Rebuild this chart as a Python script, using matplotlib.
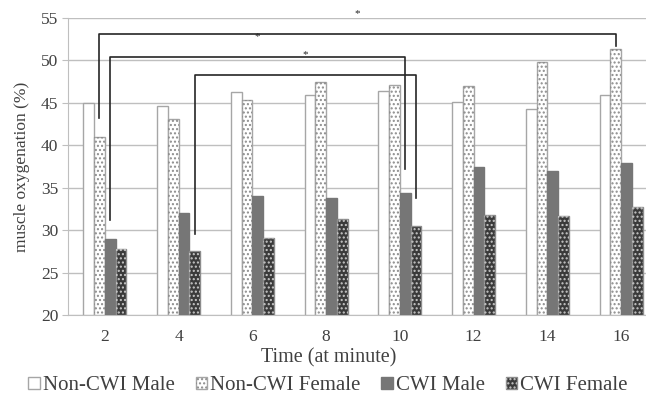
import matplotlib
matplotlib.use("Agg")
import matplotlib.pyplot as plt
from matplotlib.legend_handler import HandlerTuple
import numpy as np

plt.rcParams['font.family'] = ['Liberation Serif', 'DejaVu Serif']
plt.rcParams['hatch.linewidth'] = 1.0

# data
minutes = ['2', '4', '6', '8', '10', '12', '14', '16']
noncwi_male = [45.0, 44.6, 46.3, 45.9, 46.4, 45.1, 44.3, 45.9]
noncwi_female = [41.0, 43.1, 45.3, 47.5, 47.1, 47.0, 49.8, 51.4]
cwi_male = [28.9, 32.0, 34.0, 33.8, 34.4, 37.4, 37.0, 37.9]
cwi_female = [27.8, 27.5, 29.1, 31.3, 30.5, 31.8, 31.7, 32.7]
series_names = ['Non-CWI Male', 'Non-CWI Female', 'CWI Male', 'CWI Female']

# significance brackets: (series, from idx, to idx, left end, right end, bar height)
brackets = [
    (1, 0, 7, 43.2, 51.7, 53.1),
    (2, 0, 4, 31.2, 37.2, 50.4),
    (3, 1, 4, 29.6, 33.8, 48.25),
]

fig = plt.figure(figsize=(6.46, 4.05), dpi=100)
ax = fig.add_axes([68 / 646, 1 - 315 / 405, 590 / 646, 297 / 405])

x = np.arange(len(minutes))
w = 0.146
offsets = (np.arange(4) - 1.5) * w
grid_c = '#bfbfbf'
txt_c = '#404040'

styles = [
    dict(face='white', edge='#a6a6a6', hatch=None, hcol=None),
    dict(face='white', edge='#a6a6a6', hatch='....', hcol='#8c8c8c'),
    dict(face='#767676', edge='#767676', hatch=None, hcol=None),
    dict(face='#3a3a3a', edge='#8c8c8c', hatch='....', hcol='#c8c8c8'),
]
values = [noncwi_male, noncwi_female, cwi_male, cwi_female]

handles = []
for i, (vals, st) in enumerate(zip(values, styles)):
    h = ax.bar(x + offsets[i], np.array(vals) - 20, w, bottom=20,
               color=st['face'], edgecolor=st['edge'], linewidth=1.0, zorder=3)
    if st['hatch']:
        h2 = ax.bar(x + offsets[i], np.array(vals) - 20, w, bottom=20, fill=False,
                    edgecolor=st['hcol'], linewidth=0, hatch=st['hatch'], zorder=3)
        handles.append((h, h2))
    else:
        handles.append((h,))

for s, a, b, y0, y1, yt in brackets:
    xa = x[a] + offsets[s]
    xb = x[b] + offsets[s]
    ax.plot([xa, xa, xb, xb], [y0, yt, yt, y1], color='#262626', lw=1.2,
            zorder=4, clip_on=False)
    ax.text((xa + xb) / 2, yt + 2.4, '*', ha='center', va='center',
            fontsize=8, color='#262626', clip_on=False)

ax.set_xlim(-0.5, len(minutes) - 0.5)
ax.set_ylim(20, 55)
ax.set_yticks(np.arange(20, 56, 5))
ax.set_xticks(x)
ax.set_xticklabels(minutes)
ax.yaxis.grid(True, color=grid_c, lw=1.0, zorder=0)
ax.set_axisbelow(True)
for sp in ['top', 'right']:
    ax.spines[sp].set_visible(False)
ax.spines['left'].set_color(grid_c)
ax.spines['bottom'].set_color(grid_c)
ax.tick_params(axis='y', length=4, color=grid_c, labelsize=12.5, pad=3, labelcolor=txt_c)
ax.tick_params(axis='x', length=0, labelsize=12.5, pad=10, labelcolor=txt_c)
ax.set_ylabel('muscle oxygenation (%)', fontsize=12.5, color=txt_c)
ax.yaxis.set_label_coords((22 - 68) / 590, 0.5)
ax.yaxis.label.set_va('center')
ax.set_xlabel('Time (at minute)', fontsize=14.5, color=txt_c)
ax.xaxis.set_label_coords((329 - 68) / 590, -43 / 297)
ax.xaxis.label.set_va('center')

fig.legend(handles, series_names, loc='center', bbox_to_anchor=(328 / 646, 1 - 386 / 405),
           ncol=4, frameon=False, fontsize=15, handlelength=0.55, handleheight=0.55,
           handletextpad=0.15, columnspacing=1.0, labelcolor=txt_c,
           handler_map={tuple: HandlerTuple(ndivide=1, pad=0)})

fig.savefig('out.png', dpi=100)
